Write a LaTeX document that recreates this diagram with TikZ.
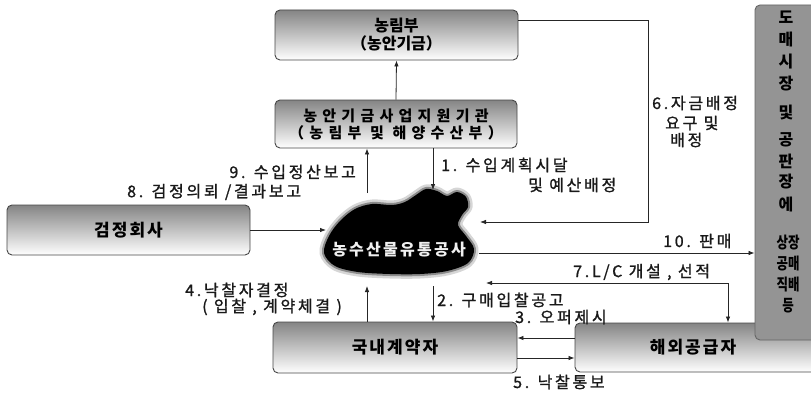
\documentclass[tikz,border=0pt]{standalone}
\usepackage{fontspec}
\setmainfont{Noto Sans CJK KR}
\newfontfamily\labfont[LetterSpace=17, FakeBold=1.2]{Noto Sans CJK KR}
\newfontfamily\plainfont{Noto Sans CJK KR}
\newfontfamily\wideboxfont[LetterSpace=35]{Noto Sans CJK KR}
\newfontfamily\boxfont[LetterSpace=12]{Noto Sans CJK KR}
\newfontfamily\blobfont[LetterSpace=14]{Noto Sans CJK KR}
\usetikzlibrary{arrows.meta}

\tikzset{
  box/.style={draw=black!72, line width=0.9pt, rounded corners=5pt,
    top color=black!48, bottom color=white, middle color=black!24,
    align=center, inner sep=0pt},
  sidebox/.style={draw=black!60, line width=0.9pt, rounded corners=5pt,
    fill=black!42, inner sep=0pt},
  lab/.style={inner sep=0pt, font=\labfont\fontsize{16}{18}\selectfont, text=black!90},
  mk/.style={inner sep=0pt, font=\plainfont\bfseries\fontsize{16}{18}\selectfont},
  flow/.style={draw=black!85, line width=0.8pt, -{Latex[length=6pt,width=4.5pt]}},
  flowboth/.style={draw=black!85, line width=0.8pt,
    {Latex[length=6pt,width=4.5pt]}-{Latex[length=6pt,width=4.5pt]}},
}

\begin{document}
\begin{tikzpicture}[x=1pt,y=-1pt]
\path[use as bounding box, fill=white] (0,0) rectangle (811,396);
\clip (0,0) rectangle (811,396);

% ---- boxes ----
\node[box, minimum width=243pt, minimum height=50pt,
  font=\plainfont\bfseries\fontsize{16}{18}\selectfont] (mafra) at (396.5,35)
  {농림부\\（농안기금）};
\node[box, minimum width=242pt, minimum height=48pt,
  font=\wideboxfont\bfseries\fontsize{15}{17}\selectfont] (support) at (396,124)
  {농안기금사업지원기관\\（농림부 및 해양수산부）};
\node[box, minimum width=243pt, minimum height=50pt,
  font=\boxfont\bfseries\fontsize{17}{19}\selectfont] (inspect) at (128.5,230) {검정회사};
\node[box, minimum width=244pt, minimum height=51pt,
  font=\boxfont\bfseries\fontsize{17}{19}\selectfont] (domestic) at (395,347.5) {국내계약자};
\node[box, minimum width=246pt, minimum height=49pt,
  font=\boxfont\bfseries\fontsize{17}{19}\selectfont] (overseas) at (698,347.5)
  {\hspace*{-10pt}해외공급자};
\node[sidebox, minimum width=70pt, minimum height=335pt] (market) at (790,172.5) {};

% ---- text of the market box ----
\foreach \ch/\yy [count=\i] in {도/17,매/40,시/62,장/84,및/112,공/140,판/161,장/182,에/204}
  \node[mk] (mc\i) at (786,\yy) {\ch};
\foreach \ch/\yy [count=\i] in {상장/243,공매/264,직배/285,등/306}
  \node[mk] (mp\i) at (788,\yy) {\scalebox{0.78}[1]{\ch}};

% ---- the corporation (dark silhouette with its name) ----
\path[preaction={draw=black!16, line width=9pt, line join=round},
      preaction={draw=black!45, line width=4pt, line join=round},
      fill=black]
  plot[smooth cycle, tension=0.55] coordinates {
    (324,253) (329,236) (340,221) (355,209) (372,204) (392,205) (405,202)
    (416,195) (426,189) (437,191) (447,196) (457,192) (466,197) (468,207)
    (462,215) (458,225) (466,236) (474,249) (468,263) (447,271) (420,274)
    (390,274) (358,272) (335,266)};
\node[inner sep=0pt, font=\blobfont\bfseries\fontsize{16}{18}\selectfont, text=black!6]
  (kat) at (399,250) {농수산물유통공사};

% ---- arrow ends at the corporation ----
\coordinate (k9) at (367,193);
\coordinate (k1) at (433,190);
\coordinate (k8) at (326,230);
\coordinate (k6) at (480,222);
\coordinate (c6) at (648,222);
\coordinate (k10) at (479,253);
\coordinate (k7) at (486,283);
\coordinate (c7) at (728,283);
\coordinate (k4) at (367,286);
\coordinate (k2) at (433,286);

% ---- connectors ----
\draw[flow] (support.north) -- (mafra.south);
\draw[flow] (k9) -- (k9 |- support.south);
\draw[flow] (k1 |- support.south) -- (k1);
\draw[flow] (mafra.east |- 0,20) -| (c6) -- (k6);
\draw[flow] (inspect.east) -- (k8);
\draw[flow] (k10) -- (k10 -| market.west);
\draw[flowboth] (k7) -- (c7) -- (c7 |- overseas.north);
\draw[flow] (k4 |- domestic.north) -- (k4);
\draw[flow] (k2) -- (k2 |- domestic.north);
\draw[flow] (overseas.west |- 0,338) -- (domestic.east |- 0,338);
\draw[flow] (domestic.east |- 0,358) -- (overseas.west |- 0,358);

% ---- labels ----
\node[lab, anchor=east] (l9) at (356,172) {9. 수입정산보고};
\node[lab, anchor=west] (l8) at (127,192) {8. 검정의뢰 /결과보고};
\node[lab, anchor=west] (l1a) at (441,165) {1. 수입계획시달};
\node[lab, anchor=west] (l1b) at (528,185) {및 예산배정};
\node[lab, anchor=west] (l6a) at (652,103) {6.자금배정};
\node[lab, anchor=west] (l6b) at (665,123) {요구 및};
\node[lab, anchor=west] (l6c) at (670,140) {배정};
\node[lab, anchor=west] (l10) at (663,241) {10. 판매};
\node[lab, anchor=west] (l7) at (573,272) {7.L/C 개설 , 선적};
\node[lab, anchor=west] (l2) at (437,300) {2. 구매입찰공고};
\node[lab, anchor=west] (l3) at (515,317) {3. 오퍼제시};
\node[lab, anchor=west] (l4a) at (185,290) {4.낙찰자결정};
\node[lab, anchor=west] (l4b) at (202,307) {( 입찰 , 계약체결 )};
\node[lab, anchor=west] (l5) at (513,382) {5. 낙찰통보};
\end{tikzpicture}
\end{document}
